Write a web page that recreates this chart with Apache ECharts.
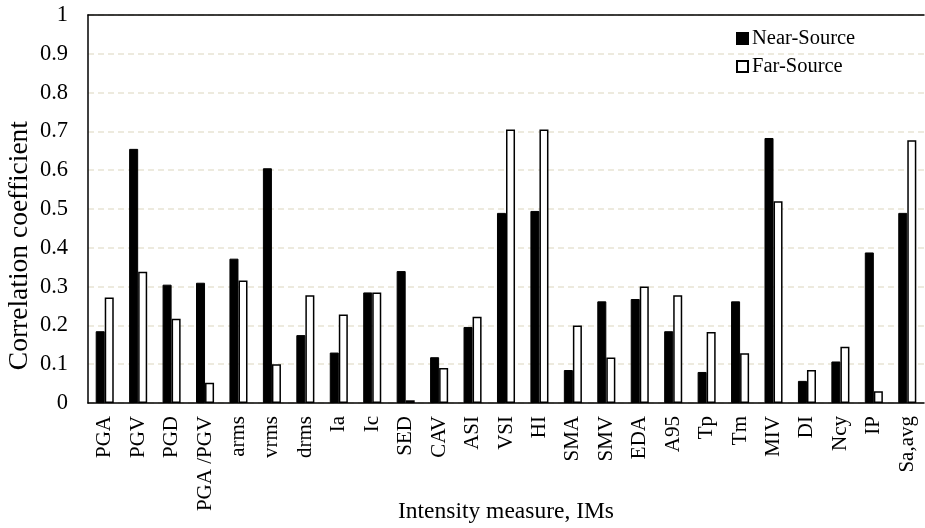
<!DOCTYPE html>
<html>
<head>
<meta charset="utf-8">
<script src="https://cdn.jsdelivr.net/npm/echarts@6/dist/echarts.min.js"></script>
<style>
	html, body { margin: 0; padding: 0; background: #fff; }
	#chart { width: 925px; height: 528px; }
</style>
</head>
<body>
<div id="chart"></div>
<script>
	//categories and values
	var categories = ['PGA', 'PGV', 'PGD', 'PGA /PGV', 'arms', 'vrms', 'drms', 'Ia', 'Ic', 'SED', 'CAV', 'ASI', 'VSI', 'HI', 'SMA', 'SMV', 'EDA', 'A95', 'Tp', 'Tm', 'MIV', 'DI', 'Ncy', 'IP', 'Sa,avg'];
	var nearSource = [0.185, 0.655, 0.305, 0.31, 0.372, 0.605, 0.175, 0.13, 0.285, 0.34, 0.118, 0.196, 0.49, 0.495, 0.085, 0.262, 0.268, 0.185, 0.08, 0.262, 0.683, 0.057, 0.107, 0.388, 0.49];
	var farSource = [0.272, 0.338, 0.217, 0.052, 0.316, 0.1, 0.278, 0.228, 0.285, 0.007, 0.09, 0.222, 0.705, 0.705, 0.2, 0.117, 0.3, 0.278, 0.183, 0.128, 0.52, 0.085, 0.145, 0.03, 0.677];

	var font = '"Liberation Serif", "Times New Roman", serif';

	var option = {
		animation: false,
		textStyle: {
			fontFamily: font
		},
		legend: {
			left: 731,
			top: 23,
			orient: 'vertical',
			itemWidth: 11,
			itemHeight: 11,
			itemGap: 7,
			textStyle: {
				fontFamily: font,
				fontSize: 20.5,
				color: '#000',
				padding: [0, 0, 0, -1]
			},
			data: [{
				name: 'Near-Source',
				icon: 'rect'
			}, {
				name: 'Far-Source',
				icon: 'rect'
			}]
		},
		//y轴标题
		graphic: [{
			type: 'text',
			left: 6,
			top: 121,
			rotation: Math.PI / 2,
			style: {
				text: 'Correlation coefficient',
				fontFamily: font,
				fontSize: 27.5,
				fill: '#000'
			}
		}],
		grid: {
			left: 88,
			right: 1,
			top: 15,
			bottom: 125,
			containLabel: false,
			outerBoundsMode: 'none'
		},
		xAxis: [{
			type: 'category',
			data: categories,
			name: 'Intensity measure, IMs',
			nameLocation: 'middle',
			nameGap: 97,
			nameMoveOverlap: false,
			nameTextStyle: {
				fontFamily: font,
				fontSize: 23.5,
				color: '#000'
			},
			axisLine: {
				lineStyle: {
					color: '#000',
					width: 1.5
				}
			},
			axisTick: {
				show: false
			},
			axisLabel: {
				rotate: 90,
				interval: 0,
				margin: 13,
				fontFamily: font,
				fontSize: 21,
				color: '#000'
			}
		}, {
			type: 'category',
			position: 'top',
			data: categories,
			axisLine: {
				lineStyle: {
					color: '#000',
					width: 1.5
				}
			},
			axisTick: {
				show: false
			},
			axisLabel: {
				show: false
			}
		}],
		yAxis: {
			type: 'value',
			min: 0,
			max: 1,
			interval: 0.1,
			axisLine: {
				show: true,
				lineStyle: {
					color: '#000',
					width: 1.5
				}
			},
			axisTick: {
				show: false
			},
			splitLine: {
				lineStyle: {
					color: '#e8e3d3',
					type: [6, 4],
					width: 1.5
				}
			},
			axisLabel: {
				margin: 20,
				fontFamily: font,
				fontSize: 22.5,
				color: '#000',
				formatter: function(v) {
					return String(Math.round(v * 10) / 10);
				}
			}
		},
		series: [{
			name: 'Near-Source',
			type: 'bar',
			data: nearSource,
			barGap: '0%',
			barCategoryGap: '46%',
			itemStyle: {
				color: '#000',
				borderColor: '#000',
				borderWidth: 1
			}
		}, {
			name: 'Far-Source',
			type: 'bar',
			data: farSource,
			itemStyle: {
				color: '#fff',
				borderColor: '#000',
				borderWidth: 1.5
			}
		}]
	};
	var chart = echarts.init(document.getElementById('chart'));
	chart.setOption(option);
</script>
</body>
</html>
